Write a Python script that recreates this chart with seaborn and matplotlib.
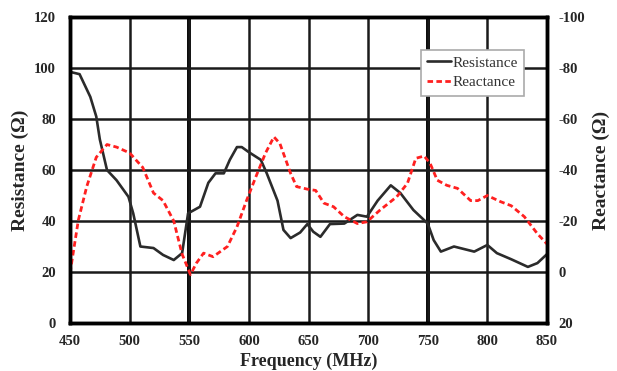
import matplotlib
matplotlib.use("Agg")
import matplotlib.pyplot as plt
import seaborn as sns
import pandas as pd

res_freq = [450, 458, 467, 472, 475, 481, 489, 499, 503, 509, 520, 528, 537, 544, 549, 559, 566, 572,
            579, 584, 590, 594, 600, 610, 615, 624, 629, 635, 643, 649, 654, 660, 668, 680, 691, 699,
            708, 719, 727, 738, 750, 755, 761, 772, 789, 800, 808, 820, 834, 842, 850]
resistance = [98.5, 97.6, 88.7, 81, 72, 60, 56, 49.5, 43, 30, 29.4, 26.7, 24.7, 27.4, 43, 45.6, 55, 58.7,
              58.7, 64, 69, 69, 67, 64, 58.7, 48, 36.5, 33.3, 35.5, 38.8, 35.8, 33.8, 38.8, 39, 42.4, 41.7,
              48, 54, 51, 44.3, 39, 32.5, 28, 30, 28, 30.6, 27.4, 25, 22, 23.5, 27]

reac_freq = [450, 457, 464, 472, 481, 489, 500, 511, 520, 528, 537, 544, 551, 556, 562, 570, 582, 590,
             598, 607, 614, 621, 626, 635, 640, 649, 656, 663, 671, 680, 691, 699, 710, 724, 733, 740,
             747, 752, 758, 766, 775, 786, 792, 800, 811, 820, 831, 842, 850]
# reactance in right-axis units (ohm)
reactance = [0.4, -20.4, -33.5, -45, -50, -49, -46.7, -41, -31, -28, -20, -7, 1, -3.5, -7.4, -6, -10, -17.7,
             -28, -38.7, -46.7, -53, -50.4, -38.7, -33.5, -32.5, -32, -27, -25.6, -21.7, -19, -19.7, -24.3,
             -29.5, -34.8, -44.6, -45.5, -42.6, -36, -34, -32.8, -28, -28, -30, -27.6, -26, -21.7, -15, -11]

x_ticks = [450, 500, 550, 600, 650, 700, 750, 800, 850]
left_ticks = [0, 20, 40, 60, 80, 100, 120]
right_ticks = [20, 0, -20, -40, -60, -80, -100]

sns.set_style("white")
plt.rcParams['font.family'] = ['Liberation Serif', 'DejaVu Serif']

df_r = pd.DataFrame({"f": res_freq, "v": resistance})
df_x = pd.DataFrame({"f": reac_freq, "v": reactance})

fig = plt.figure(figsize=(6.17, 3.71), dpi=100)
ax = fig.add_axes([0.1135, 0.1294, 0.773, 0.8246])
ax2 = ax.twinx()

sns.lineplot(data=df_r, x="f", y="v", ax=ax, color="#2b2b2b", linewidth=1.9, label="Resistance", legend=False)
sns.lineplot(data=df_x, x="f", y="v", ax=ax2, color="#ff2020", linewidth=2.0, linestyle=(0, (2, 1.2)),
             label="Reactance", legend=False)

ax.set_xlim(450, 850)
ax.set_ylim(0, 120)
ax2.set_ylim(20, -100)
ax.set_xticks(x_ticks)
ax.set_yticks(left_ticks)
ax2.set_yticks(right_ticks)
ax.set_xticklabels([str(t) for t in x_ticks], fontweight="bold", fontsize=10.5)
ax.set_yticklabels([str(t) for t in left_ticks], fontweight="bold", fontsize=10.5)
ax2.set_yticklabels([str(t) for t in right_ticks], fontweight="bold", fontsize=10.5)

ax.grid(True, color="#1a1a1a", linewidth=1.8)
ax.set_axisbelow(True)
for xv in (550, 750):
    ax.axvline(xv, color="black", linewidth=2.8, zorder=0.5)
ax.tick_params(axis="x", length=0, pad=9)
ax.tick_params(axis="y", length=0, pad=10)
ax2.tick_params(length=0, pad=8)
for a in (ax, ax2):
    for s in a.spines.values():
        s.set_color("black")
        s.set_linewidth(2.5)

ax.set_xlabel("Frequency (MHz)", fontweight="bold", fontsize=13, labelpad=3)
ax.set_ylabel("Resistance (Ω)", fontweight="bold", fontsize=14, labelpad=4)
ax2.set_ylabel("Reactance (Ω)", fontweight="bold", fontsize=14, labelpad=6)

h1, l1 = ax.get_legend_handles_labels()
h2, l2 = ax2.get_legend_handles_labels()
leg = ax2.legend(h1 + h2, l1 + l2, loc="upper right", bbox_to_anchor=(0.968, 0.918),
                 fontsize=11, handlelength=1.6, handletextpad=0.1, borderpad=0.4,
                 fancybox=False, framealpha=1, edgecolor="#aaaaaa", labelspacing=0.4,
                 labelcolor="#333333")
leg.get_frame().set_linewidth(1.2)

fig.savefig("out.png", dpi=100)
